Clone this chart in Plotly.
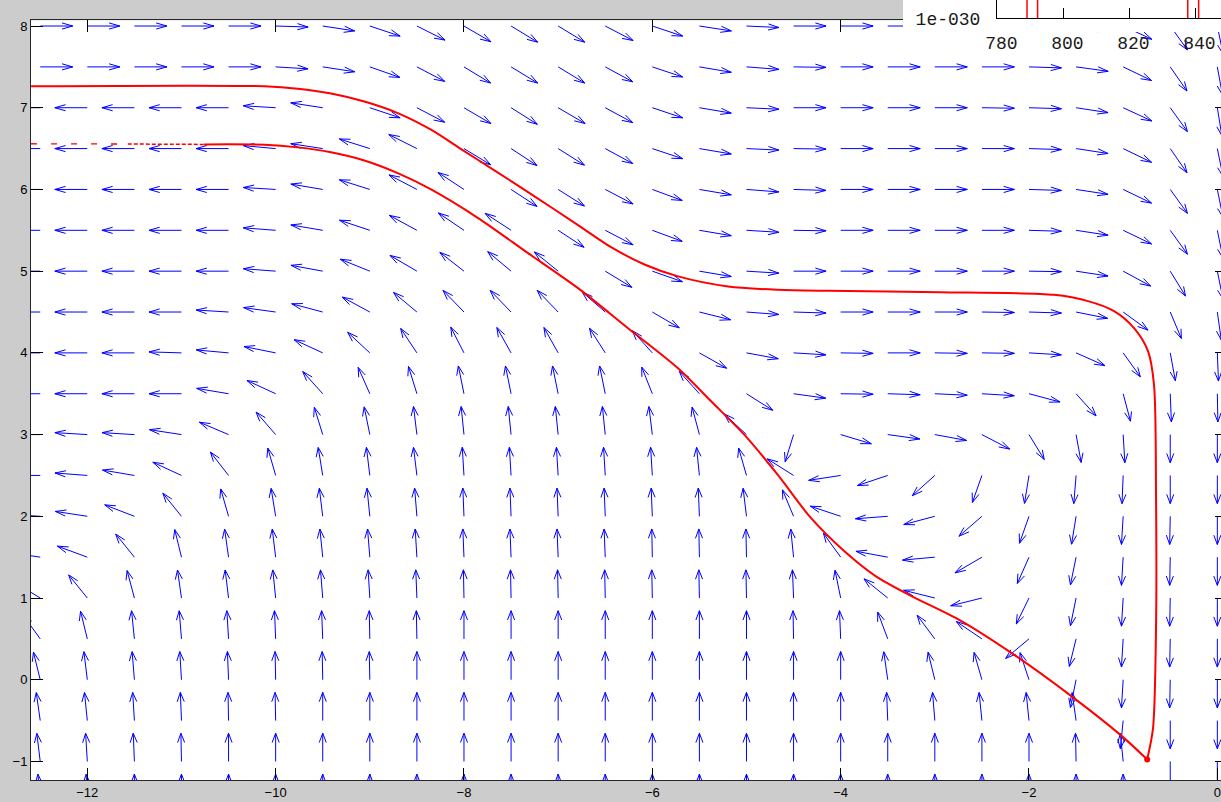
import numpy as np
import plotly.graph_objects as go

# ---- quiver grid ----
grid_x = [-12.5, -12.0, -11.5, -11.0, -10.5, -10.0, -9.5, -9.0, -8.5, -8.0, -7.5, -7.0, -6.5,
          -6.0, -5.5, -5.0, -4.5, -4.0, -3.5, -3.0, -2.5, -2.0, -1.5, -1.0, -0.5, 0.0]
grid_y = [8.0, 7.5, 7.0, 6.5, 6.0, 5.5, 5.0, 4.5, 4.0, 3.5, 3.0, 2.5, 2.0, 1.5, 1.0, 0.5,
          0.0, -0.5, -1.0, -1.5]

# field direction (degrees) at each grid column, one list per row
dir_y8_0 = [0, 0, 0, 0, 0, -2, -10, -21, -30, -34, -35, -35, -31, -21, -10, -3, 0, 0, 0, 0, 0, -2, -8, -28, -58, -80]
dir_y7_5 = [0, 0, 0, 0, 0, -4, -10, -22, -31, -35, -35, -35, -32, -21, -11, -5, -1, 0, 0, 0, 0, -2, -9, -29, -59, -81]
dir_y7_0 = [180, 180, 180, 180, 180, 176, 170, -21, -31, -34, -36, -34, -32, -21, -11, -3, 0, 0, 0, 0, -1, -2, -10, -28, -58, -82]
dir_y6_5 = [180, 180, 180, 180, 180, 174, 170, 160, 150, -35, -37, -36, -32, -21, -11, -3, -1, 0, 0, 0, 0, -2, -10, -29, -59, -80]
dir_y6_0 = [180, 180, 180, 180, 180, 176, 169, 160, 149, 143, -37, -36, -31, -23, -11, -5, -2, 0, 0, 0, 0, -2, -10, -29, -58, -80]
dir_y5_5 = [180, 180, 180, 180, 180, 175, 169, 159, 148, 142, 143, -37, -31, -23, -11, -4, -1, 0, 0, 0, 0, -2, -10, -29, -58, -80]
dir_y5_0 = [180, 180, 180, 180, 180, 175, 168, 155, 146, 138, 136, 137, -35, -22, -11, -4, 0, 0, 0, 0, 0, -1, -10, -32, -62, -80]
dir_y4_5 = [180, 180, 180, 180, 176, 171, 163, 148, 136, 130, 130, 130, 135, -34, -16, -5, -2, 0, 0, 0, -1, -2, -13, -40, -70, -83]
dir_y4_0 = [180, 180, 180, 178, 174, 167, 152, 133, 120, 114, 116, 116, 119, 128, -33, -12, -4, -1, 0, -1, -1, -4, -27, -58, -81, -88]
dir_y3_5 = [180, 180, 180, 180, 169, 152, 128, 111, 105, 100, 100, 100, 100, 109, 128, -36, -9, -1, -2, -3, -4, -17, -52, -77, -88, -89]
dir_y3_0 = [180, 176, 176, 170, 154, 127, 105, 100, 96, 95, 95, 95, 95, 96, 103, 133, -105, -19, -9, -12, -31, -62, -81, -87, -90, -90]
dir_y2_5 = [180, 175, 169, 152, 124, 104, 98, 96, 96, 93, 93, 93, 93, 93, 95, 104, 144, -170, -159, -134, -107, -98, -94, -92, -90, -90]
dir_y2_0 = [176, 170, 156, 125, 104, 98, 96, 95, 94, 92, 92, 92, 92, 92, 92, 96, 110, 159, -175, -163, -135, -107, -98, -93, -91, -90]
dir_y1_5 = [170, 157, 125, 102, 97, 96, 95, 94, 93, 92, 92, 92, 92, 91, 91, 91, 95, 122, 168, -174, -146, -111, -100, -93, -91, -90]
dir_y1_0 = [145, 125, 103, 97, 96, 95, 94, 93, 92, 91, 91, 91, 91, 91, 91, 91, 92, 100, 137, 164, -164, -113, -100, -93, -91, -90]
dir_y0_5 = [122, 102, 95, 94, 93, 92, 92, 91, 91, 90, 90, 90, 90, 90, 90, 90, 91, 92, 108, 123, 142, -136, -102, -93, -91, -90]
dir_y0_0 = [102, 96, 94, 93, 92, 91, 91, 91, 90, 90, 90, 90, 90, 90, 90, 90, 90, 90, 97, 102, 104, 106, -100, -93, -91, -90]
dir_ym0_5 = [97, 95, 93, 92, 91, 91, 90, 90, 90, 90, 90, 90, 90, 90, 90, 90, 90, 90, 92, 94, 95, 95, 97, -95, -90, -90]
dir_ym1_0 = [96, 93, 92, 91, 90, 90, 90, 90, 90, 90, 90, 90, 90, 90, 90, 90, 90, 90, 90, 90, 90, 90, 91, 95, -90, -90]
dir_ym1_5 = [94, 92, 90, 90, 90, 90, 90, 90, 90, 90, 90, 90, 90, 90, 90, 90, 90, 90, 90, 90, 90, 90, 90, 90, -90, -90]

direction_rows = [dir_y8_0, dir_y7_5, dir_y7_0, dir_y6_5, dir_y6_0, dir_y5_5, dir_y5_0, dir_y4_5,
                  dir_y4_0, dir_y3_5, dir_y3_0, dir_y2_5, dir_y2_0, dir_y1_5, dir_y1_0, dir_y0_5,
                  dir_y0_0, dir_ym0_5, dir_ym1_0, dir_ym1_5]

# ---- trajectories through the start point ----
start_x, start_y = -0.745, -0.975

upper_x = [-12.597, -10.12, -9.765, -9.412, -9.058, -8.703, -8.35, -8.031, -7.681, -7.32, -6.789,
           -6.438, -6.077, -5.727, -5.196, -4.665, -4.134, -2.945, -1.734, -1.373, -1.097, -0.884,
           -0.736, -0.672, -0.651, -0.651, -0.683, start_x]
upper_y = [7.262, 7.262, 7.233, 7.174, 7.076, 6.935, 6.731, 6.494, 6.237, 5.968, 5.564,
           5.294, 5.078, 4.936, 4.813, 4.772, 4.759, 4.743, 4.71, 4.633, 4.511, 4.303,
           4.021, 3.605, 2.258, 0.629, -0.595, start_y]

lower_x = [-12.597, -11.57, -10.76, -10.12, -9.765, -9.412, -9.058, -8.703, -8.35, -7.85, -7.32,
           -6.789, -6.258, -5.727, -5.373, -5.019, -4.665, -4.325, -3.972, -3.617, -3.264,
           -2.732, -2.18, -1.554, -1.023, start_x]
lower_y = [6.559, 6.556, 6.551, 6.547, 6.515, 6.454, 6.354, 6.199, 6.0, 5.65, 5.221,
           4.792, 4.302, 3.812, 3.405, 2.993, 2.503, 1.992, 1.584, 1.258, 1.033,
           0.727, 0.323, -0.197, -0.681, start_y]

# ---- inset spectrum lines ----
inset_freq = [789.0, 792.2, 837.7, 841.0]
inset_amp = [1e-12, 1e-12, 1e-12, 1e-12]
inset_floor = 1e-30

ARROW_LEN = 0.345
HEAD_ALPHA = 0.33
HEAD_BETA = 0.33

# build quiver segments (shaft + two barbs) like MATLAB's quiver
qx, qy = [], []
for yv, row in zip(grid_y, direction_rows):
    for xv, ang in zip(grid_x, row):
        t = np.deg2rad(ang)
        u = ARROW_LEN * np.cos(t)
        v = ARROW_LEN * np.sin(t)
        tx, ty = xv + u, yv + v
        qx += [xv, tx, None,
               tx - HEAD_ALPHA * (u + HEAD_BETA * v), tx, tx - HEAD_ALPHA * (u - HEAD_BETA * v), None]
        qy += [yv, ty, None,
               ty - HEAD_ALPHA * (v - HEAD_BETA * u), ty, ty - HEAD_ALPHA * (v + HEAD_BETA * u), None]

fig = go.Figure()
fig.add_trace(go.Scatter(x=qx, y=qy, mode="lines", line=dict(color="#0000FF", width=1),
                         hoverinfo="skip", showlegend=False))

red = "#FF0000"
fig.add_trace(go.Scatter(x=upper_x, y=upper_y, mode="lines",
                         line=dict(color=red, width=2, shape="spline", smoothing=0.8),
                         hoverinfo="skip", showlegend=False))
# lower trajectory: faint broken start, then solid
fig.add_trace(go.Scatter(x=lower_x[:2], y=lower_y[:2], mode="lines",
                         line=dict(color=red, width=1.3, dash="6px,14px"),
                         hoverinfo="skip", showlegend=False))
fig.add_trace(go.Scatter(x=lower_x[1:3], y=lower_y[1:3], mode="lines",
                         line=dict(color=red, width=1.5, dash="4px,2px"),
                         hoverinfo="skip", showlegend=False))
fig.add_trace(go.Scatter(x=lower_x[2:], y=lower_y[2:], mode="lines",
                         line=dict(color=red, width=2, shape="spline", smoothing=0.8),
                         hoverinfo="skip", showlegend=False))
fig.add_trace(go.Scatter(x=[start_x], y=[start_y], mode="markers",
                         marker=dict(color=red, size=6), hoverinfo="skip", showlegend=False))

# right-hand tick marks of the main frame
fig.add_trace(go.Scatter(x=[], y=[], xaxis="x", yaxis="y2", showlegend=False))
# white panel behind the inset
fig.add_trace(go.Scatter(x=[], y=[], xaxis="x2", yaxis="y3", showlegend=False))

sx, sy = [], []
for f, a in zip(inset_freq, inset_amp):
    sx += [f, f, None]
    sy += [inset_floor, a, None]
fig.add_trace(go.Scatter(x=sx, y=sy, mode="lines", line=dict(color=red, width=1.5),
                         xaxis="x3", yaxis="y4", hoverinfo="skip", showlegend=False))

W, H = 1221, 802
tick_font = dict(family="Liberation Sans, Arial, sans-serif", size=13, color="#000000")
mono_font = dict(family="Liberation Mono, Courier New, monospace", size=18, color="#1a1a1a")

main_y_range = [-1.227, 8.07]
hidden = dict(showline=False, showticklabels=False, ticks="", showgrid=False, zeroline=False,
              range=[0, 1], fixedrange=True, automargin=False)

fig.update_layout(
    width=W, height=H, autosize=False,
    margin=dict(l=0, r=0, t=0, b=0, pad=0, autoexpand=False),
    paper_bgcolor="#CCCCCC", plot_bgcolor="#FFFFFF",
    showlegend=False,
    xaxis=dict(domain=[31 / W, 1.0], range=[-12.598, 0.039], anchor="y", automargin=False,
               tickvals=[-12, -10, -8, -6, -4, -2, 0], ticks="inside", ticklen=12,
               tickcolor="#000000", showline=True, linecolor="#262626", linewidth=1,
               mirror="ticks", showgrid=False, zeroline=False, tickfont=tick_font),
    yaxis=dict(domain=[1 - 780 / H, 1 - 20.3 / H], range=main_y_range, anchor="x",
               automargin=False,
               tickvals=list(range(-1, 9)), ticks="inside", ticklen=12,
               tickcolor="#000000", showline=True, linecolor="#262626", linewidth=1,
               mirror=False, showgrid=False, zeroline=False, tickfont=tick_font),
    yaxis2=dict(overlaying="y", side="right", anchor="x", range=main_y_range, automargin=False,
                tickvals=list(range(-1, 9)), ticks="inside", ticklen=6, tickcolor="#000000",
                showline=False, showticklabels=False, showgrid=False, zeroline=False),
    xaxis2=dict(domain=[903 / W, 1.0], anchor="y3", **hidden),
    yaxis3=dict(domain=[1 - 32 / H, 1.0], anchor="x2", **hidden),
    xaxis3=dict(domain=[997 / W, 1.0], range=[779.9, 779.9 + 224 / 3.3], anchor="y4",
                automargin=False,
                tickvals=[780, 800, 820, 840], ticks="inside", ticklen=10, tickcolor="#000000",
                showline=True, linecolor="#000000", linewidth=1, showgrid=False, zeroline=False,
                tickfont=mono_font, ticklabelstandoff=8, ticklabelshift=4),
    yaxis4=dict(domain=[1 - 18.3 / H, 1.0], type="log", range=[-30, -27], anchor="x3",
                automargin=False,
                tickvals=[1e-30], ticktext=["1e-030"], ticks="", showline=True,
                linecolor="#000000", linewidth=1, showgrid=False, zeroline=False,
                tickfont=mono_font, ticklabelstandoff=12),
)

fig.write_html("out.html")
